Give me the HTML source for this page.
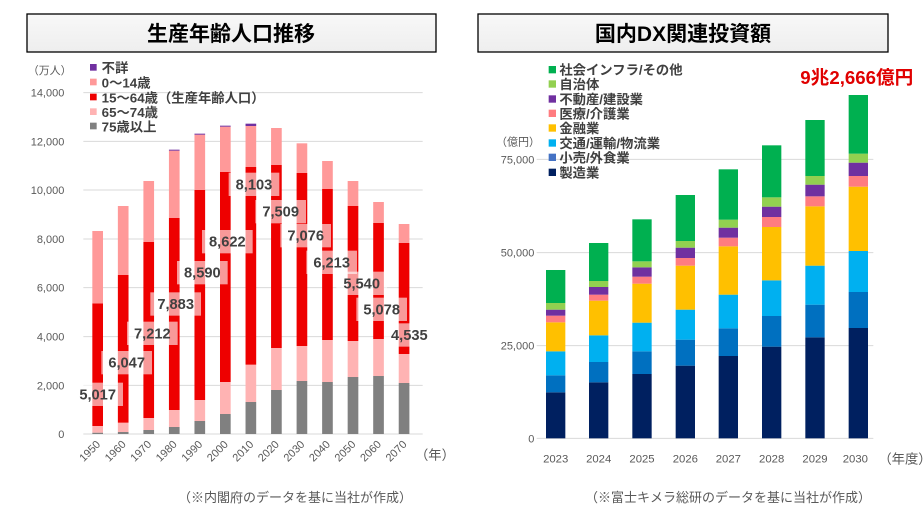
<!DOCTYPE html>
<html><head><meta charset="utf-8"><style>
html,body{margin:0;padding:0;background:#fff;}
svg{display:block;font-family:"Liberation Sans","Noto Sans CJK JP",sans-serif;}
</style></head><body>
<svg width="923" height="510" viewBox="0 0 923 510" xmlns="http://www.w3.org/2000/svg">
<defs><linearGradient id="tg" x1="0" y1="0" x2="0" y2="1"><stop offset="0" stop-color="#f8f8f8"/><stop offset="1" stop-color="#eeeeee"/></linearGradient></defs>
<rect x="27" y="14" width="409" height="38" fill="url(#tg)" stroke="#000" stroke-width="1.3"/>
<text x="231" y="41" text-anchor="middle" font-size="21" font-weight="bold" fill="#000">生産年齢人口推移</text>
<rect x="478" y="14" width="410" height="38" fill="url(#tg)" stroke="#000" stroke-width="1.3"/>
<text x="683" y="41" text-anchor="middle" font-size="21" font-weight="bold" fill="#000">国内DX関連投資額</text>

<!-- LEFT CHART (zoom coords) -->
<g transform="translate(0,50) scale(0.33333)">
<g stroke="#d9d9d9" stroke-width="3">
<line x1="250" x2="1268" y1="128" y2="128"/><line x1="250" x2="1268" y1="274" y2="274"/><line x1="250" x2="1268" y1="420" y2="420"/><line x1="250" x2="1268" y1="567" y2="567"/><line x1="250" x2="1268" y1="713" y2="713"/><line x1="250" x2="1268" y1="860" y2="860"/><line x1="250" x2="1268" y1="1006" y2="1006"/><line x1="250" x2="1268" y1="1152" y2="1152"/>
</g>
<g font-size="33" fill="#595959" text-anchor="end">
<text x="193" y="140">14,000</text><text x="193" y="286">12,000</text><text x="193" y="432">10,000</text><text x="193" y="579">8,000</text><text x="193" y="725">6,000</text><text x="193" y="872">4,000</text><text x="193" y="1018">2,000</text><text x="193" y="1164">0</text>
<text x="215" y="72">（万人）</text>
</g>
<g id="bars"></g>
<g font-size="40" font-weight="bold" fill="#404040">
<rect x="270" y="42" width="20" height="20" fill="#7030a0"/><text x="305" y="68">不詳</text>
<rect x="270" y="86" width="20" height="20" fill="#ff9999"/><text x="305" y="112">0～14歳</text>
<rect x="270" y="131" width="20" height="20" fill="#ee0000"/><text x="305" y="157">15～64歳（生産年齢人口）</text>
<rect x="270" y="175" width="20" height="20" fill="#ffb3b3"/><text x="305" y="201">65～74歳</text>
<rect x="270" y="218" width="20" height="20" fill="#808080"/><text x="305" y="244">75歳以上</text>
</g>
<g id="lbl"></g>
<g font-size="33" fill="#595959" id="xl"></g>
<text x="1245" y="1228" font-size="40" fill="#595959">（年）</text>
</g>

<!-- RIGHT CHART -->
<g transform="translate(470,50) scale(0.33333)">
<g stroke="#d9d9d9" stroke-width="3">
<line x1="200" x2="1210" y1="328" y2="328"/><line x1="200" x2="1210" y1="608" y2="608"/><line x1="200" x2="1210" y1="887" y2="887"/><line x1="200" x2="1210" y1="1165" y2="1165"/>
</g>
<g font-size="33" fill="#595959" text-anchor="end">
<text x="193" y="340">75,000</text><text x="193" y="620">50,000</text><text x="193" y="899">25,000</text><text x="193" y="1177">0</text>
<text x="210" y="286">（億円）</text>
</g>
<g id="rbars"></g>
<g font-size="40" font-weight="bold" fill="#404040">
<rect x="236" y="48" width="22" height="22" fill="#00b050"/><text x="268" y="74">社会インフラ/その他</text>
<rect x="236" y="91" width="22" height="22" fill="#92d050"/><text x="268" y="117">自治体</text>
<rect x="236" y="136" width="22" height="22" fill="#7030a0"/><text x="268" y="162">不動産/建設業</text>
<rect x="236" y="179" width="22" height="22" fill="#ff7c80"/><text x="268" y="205">医療/介護業</text>
<rect x="236" y="223" width="22" height="22" fill="#ffc000"/><text x="268" y="249">金融業</text>
<rect x="236" y="268" width="22" height="22" fill="#00b0f0"/><text x="268" y="294">交通/運輸/物流業</text>
<rect x="236" y="311" width="22" height="22" fill="#4472c4"/><text x="268" y="337">小売/外食業</text>
<rect x="236" y="356" width="22" height="22" fill="#002060"/><text x="268" y="382">製造業</text>
</g>
<text x="1330" y="102" text-anchor="end" font-size="56" font-weight="bold" fill="#e00000">9兆2,666億円</text>
<g font-size="34" fill="#595959" text-anchor="middle" id="rxl"></g>
<text x="1225" y="1240" font-size="40" fill="#595959">（年度）</text>
</g>

<text x="295" y="502" text-anchor="middle" font-size="13" fill="#595959">（※内閣府のデータを基に当社が作成）</text>
<text x="728" y="502" text-anchor="middle" font-size="13" fill="#595959">（※富士キメラ総研のデータを基に当社が作成）</text>
</svg>
<script>
var NS="http://www.w3.org/2000/svg";
function el(p,t,a,txt){var e=document.createElementNS(NS,t);for(var k in a)e.setAttribute(k,a[k]);if(txt)e.textContent=txt;p.appendChild(e);return e;}
var L=[[1148,1128,760,543,0],[1146,1118,675,468,0],[1140,1104,576,393,0],[1131,1080,504,302,299],[1113,1050,420,254,251],[1092,996,366,230,227],[1056,944,351,228,221],[1020,894,345,234,0],[993,888,369,280,0],[996,870,417,333,0],[981,873,468,393,0],[978,867,519,456,0],[999,912,579,522,0]];
var cols=["#808080","#ffb3b3","#ee0000","#ff9999","#7030a0"];
var b=document.getElementById("bars"),xl=document.getElementById("xl"),lb=document.getElementById("lbl");
var years=[1950,1960,1970,1980,1990,2000,2010,2020,2030,2040,2050,2060,2070];
for(var i=0;i<13;i++){var cx=293+i*76.6;var prev=1152;
 for(var j=0;j<5;j++){var t=L[i][j];if(!t)continue;el(b,"rect",{x:cx-16,y:t,width:32,height:prev-t,fill:cols[j]});prev=t;}
 var tx=cx+10,ty=1185;el(xl,"text",{x:tx,y:ty,"text-anchor":"end",transform:"rotate(-45 "+tx+" "+ty+")"},String(years[i]));
}
var lab=[["5,017",293,1033],["6,047",380,938],["7,212",457,850],["7,883",527,762],["8,590",607,668],["8,622",682,575],["8,103",762,403],["7,509",842,485],["7,076",917,557],["6,213",995,637],["5,540",1085,700],["5,078",1145,778],["4,535",1228,855]];
lab.forEach(function(a){el(lb,"rect",{x:a[1]-76,y:a[2]-35,width:152,height:70,fill:"#fff","fill-opacity":"0.6"});el(lb,"text",{x:a[1],y:a[2]+15,"text-anchor":"middle","font-size":"44","font-weight":"bold",fill:"#404040"},a[0]);});
var R=[[1027,976,904,817,797,779,759,660],[997,936,856,752,734,711,693,579],[972,904,818,701,680,652,634,508],[947,869,779,647,624,593,573,435],[918,835,734,589,563,533,509,358],[890,798,691,531,501,470,442,286],[862,764,647,469,439,404,378,210],[834,726,603,410,378,338,311,135]];
var rc=["#002060","#0070c0","#00b0f0","#ffc000","#ff7c80","#7030a0","#92d050","#00b050"];
var xs=[228,357,487,617,746,876,1006,1136];
var rb=document.getElementById("rbars"),rx=document.getElementById("rxl");
for(var i=0;i<8;i++){var prev=1165;for(var j=0;j<8;j++){var t=R[i][j];el(rb,"rect",{x:xs[i],y:t,width:58,height:prev-t,fill:rc[j]});prev=t;}
 el(rx,"text",{x:xs[i]+(i==7?20:29),y:1238},String(2023+i));}
</script>
</body></html>
